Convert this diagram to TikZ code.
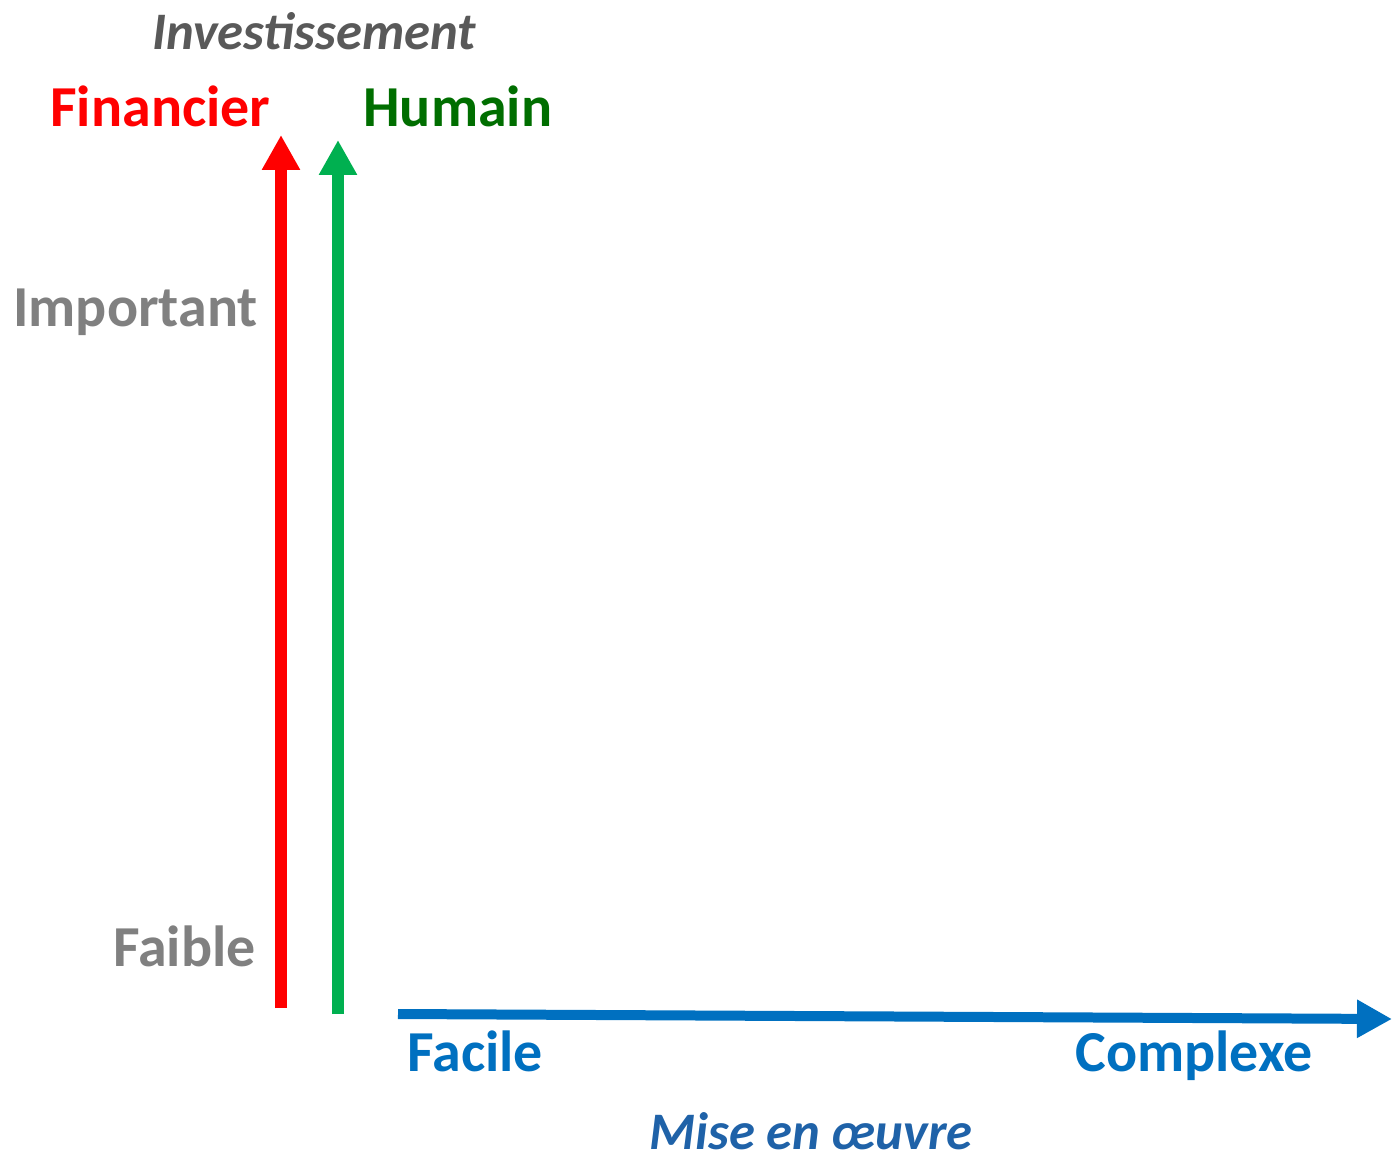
\documentclass[tikz,border=0pt]{standalone}
\usepackage{fontspec}
\setmainfont{Carlito}
\usetikzlibrary{arrows.meta}
\definecolor{finred}{HTML}{FF0000}
\definecolor{humgreen}{HTML}{00B050}
\definecolor{humtext}{HTML}{006E00}
\definecolor{levelgray}{HTML}{808080}
\definecolor{titlegray}{HTML}{595959}
\definecolor{axisblue}{HTML}{0070C0}
\definecolor{miseblue}{HTML}{1F62A8}
\tikzset{label node/.style={font=\fontsize{33}{38}\selectfont\bfseries,inner sep=0pt},
         title node/.style={font=\fontsize{30}{35}\selectfont\bfseries\itshape,inner sep=0pt},
         axis arrow/.style={line width=0.24cm,-{Triangle[length=0.7cm,width=0.72cm]}},
            }

\begin{document}
\begin{tikzpicture}[x=0.02cm,y=-0.02cm]
    \useasboundingbox (0,0) rectangle (1393,1158);

    \coordinate (fin bottom) at (281,1008);
    \coordinate (fin top) at (281,135);
    \coordinate (hum bottom) at (338,1014);
    \coordinate (hum top) at (338,140);
    \coordinate (mise left) at (398,1014);
    \coordinate (mise right) at (1392,1019);

    \draw[axis arrow,finred] (fin bottom) -- (fin top);
    \draw[axis arrow,humgreen] (hum bottom) -- (hum top);
    \draw[axis arrow,axisblue,line width=0.2cm] (mise left) -- (mise right);

    \node[title node,titlegray,anchor=base] (invest) at (314,50) {Investissement};
    \node[label node,finred,anchor=base west] (financier) at (50,127) {Financier};
    \node[label node,humtext,anchor=base west] (humain) at (363,127) {Humain};
    \node[label node,levelgray,anchor=base east] (important) at (258,327) {Important};
    \node[label node,levelgray,anchor=base east] (faible) at (256,966) {Faible};
    \node[label node,axisblue,anchor=base west] (facile) at (407,1071) {Facile};
    \node[label node,axisblue,anchor=base east] (complexe) at (1313,1071) {Complexe};
    \node[title node,miseblue,anchor=base] (mise) at (811,1149) {Mise en œuvre};
\end{tikzpicture}
\end{document}
